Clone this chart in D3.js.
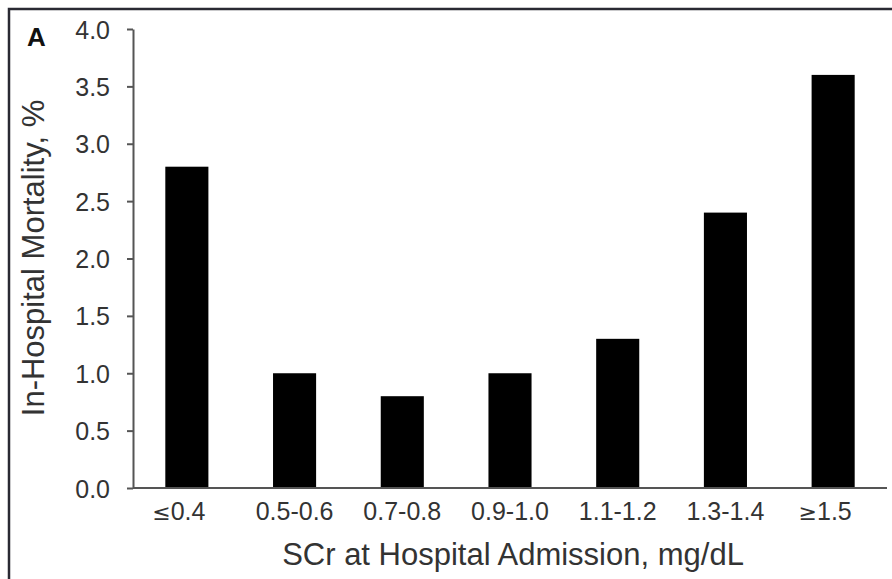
<!DOCTYPE html>
<html>
<head>
<meta charset="utf-8">
<script src="https://cdn.jsdelivr.net/npm/d3@7"></script>
<style>
  body { margin: 0; background: #fff; }
  text { font-family: "Liberation Sans", Arial, sans-serif; fill: #333; }
</style>
</head>
<body>
<div id="graph"></div>
<script>
var categories = ['≤0.4', '0.5-0.6', '0.7-0.8', '0.9-1.0', '1.1-1.2', '1.3-1.4', '≥1.5']
var mortality = [2.8, 1.0, 0.8, 1.0, 1.3, 2.4, 3.6]
var yTicks = [0, 0.5, 1, 1.5, 2, 2.5, 3, 3.5, 4]

var data = categories.map((c, i) => ({cat: c, val: mortality[i]}))

var w = 892, h = 579
var margin = {left: 133, right: 5, top: 29, bottom: 91}

var svg = d3.select('#graph')
  .html('')
  .append('svg')
  .attr('width', w)
  .attr('height', h)

// panel frame, only top and left edges show
svg.append('path')
  .attr('d', 'M9,579 L9,9 L892,9')
  .attr('fill', 'none')
  .attr('stroke', '#2a2a33')
  .attr('stroke-width', 2.5)

var x = d3.scaleBand()
  .domain(categories)
  .range([margin.left, w - margin.right])
  .paddingInner(0.6)
  .paddingOuter(0.3)

var y = d3.scaleLinear()
  .domain([0, 4])
  .range([h - margin.bottom, margin.top])

svg.append('g').selectAll('.bar')
  .data(data)
  .enter()
  .append('rect')
    .attr('class', 'bar')
    .attr('x', d => x(d.cat))
    .attr('width', x.bandwidth())
    .attr('y', d => y(d.val))
    .attr('height', d => y(0) - y(d.val))
    .style('fill', '#000')

var yAxis = svg.append('g')
  .attr('transform', 'translate(' + margin.left + ',0)')
  .call(d3.axisLeft(y).tickValues(yTicks).tickFormat(d3.format('.1f')).tickSize(6).tickSizeOuter(0))

yAxis.selectAll('text')
  .attr('x', -23)
  .attr('dy', '0.36em')
  .style('font-size', '25px')

var xAxis = svg.append('g')
  .attr('transform', 'translate(0,' + y(0) + ')')
  .call(d3.axisBottom(x).tickSize(0).tickSizeOuter(0))

xAxis.select('.domain').attr('d', 'M' + margin.left + ',0H' + (w - margin.right))
xAxis.selectAll('text')
  .attr('y', 0)
  .attr('dy', 32)
  .style('font-size', '25px')

// the ≤ / ≥ signs are drawn wider in the original, and those labels sit a bit left
xAxis.selectAll('text')
  .filter(d => /^[≤≥]/.test(d))
  .attr('dx', -8)
  .text('')
  .each(function(d) {
    var t = d3.select(this)
    t.append('tspan').style('font-family', '"DejaVu Sans", sans-serif').style('font-size', '22px').text(d[0])
    t.append('tspan').text(d.slice(1))
  })

svg.selectAll('.domain, .tick line')
  .attr('stroke', '#555')
  .attr('stroke-width', 2)

svg.append('text')
  .attr('x', (margin.left + w - margin.right) / 2 + 3)
  .attr('y', 565)
  .attr('text-anchor', 'middle')
  .style('font-size', '31px')
  .text('SCr at Hospital Admission, mg/dL')

svg.append('text')
  .attr('transform', 'translate(44,258) rotate(-90)')
  .attr('text-anchor', 'middle')
  .style('font-size', '31px')
  .text('In-Hospital Mortality, %')

svg.append('text')
  .attr('x', 27)
  .attr('y', 46)
  .style('font-size', '26px')
  .style('font-weight', 'bold')
  .style('fill', '#111')
  .text('A')
</script>
</body>
</html>
